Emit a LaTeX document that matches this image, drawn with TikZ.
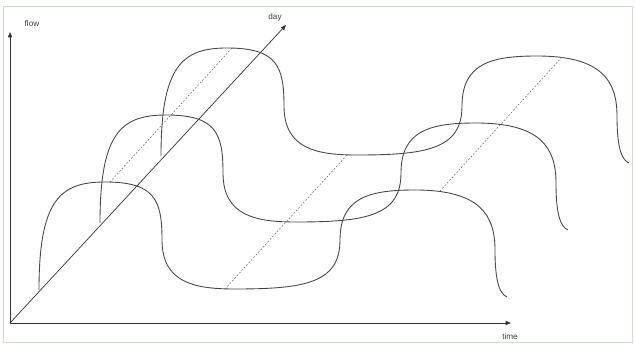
\documentclass[tikz,border=0pt]{standalone}
\usepackage{fontspec}
\setmainfont{Liberation Sans}
\usetikzlibrary{arrows.meta}
\begin{document}
\begin{tikzpicture}[x=0.03cm,y=-0.03cm,
  axis/.style={draw=black!80, line width=0.6pt, -{Triangle[length=4.5pt,width=3.5pt]}},
  wave/.style={draw=black!72, line width=0.75pt},
  guide/.style={draw=black!60, line width=0.45pt, dash pattern=on 1.5pt off 1.5pt},
  lbl/.style={font=\fontsize{7}{8}\selectfont, text=black!75, inner sep=0pt}]
\useasboundingbox (0,0) rectangle (635,345);
\draw[draw=green!40!black!20!white, line width=0.5pt] (3,6) rectangle (632,342);
% axes
\coordinate (O) at (10,323);
\coordinate (flowtip) at (10,32);
\coordinate (timetip) at (511,323);
\coordinate (daytip) at (286,25);
\draw[axis] (O) -- (flowtip);
\draw[axis] (O) -- (timetip);
\draw[axis] (O) -- (daytip);
\node[lbl] (flow) at (32,24) {flow};
\node[lbl] (day) at (275,17) {day};
\node[lbl] (time) at (510,337) {time};
% waves
\foreach \dx/\dy in {0/0,61/-67,122/-134}{
  \draw[wave, shift={(\dx,\dy)}]
    (39,290) .. controls (39,200) and (60,182) .. (105,182)
    .. controls (155,182) and (162,200) .. (162,240)
    .. controls (162,283) and (195,289) .. (235,289)
    .. controls (305,289) and (340,283) .. (340,240)
    .. controls (340,197) and (370,190) .. (415,190)
    .. controls (480,190) and (495,215) .. (495,250)
    .. controls (495,283) and (500,294) .. (507,297);
}
% dashed guides
\coordinate (g1a) at (110,182); \coordinate (g1b) at (232,48);
\coordinate (g2a) at (225,289); \coordinate (g2b) at (347,155);
\coordinate (g3a) at (440,191); \coordinate (g3b) at (562,57);
\draw[guide] (g1a) -- (g1b);
\draw[guide] (g2a) -- (g2b);
\draw[guide] (g3a) -- (g3b);
\end{tikzpicture}
\end{document}
